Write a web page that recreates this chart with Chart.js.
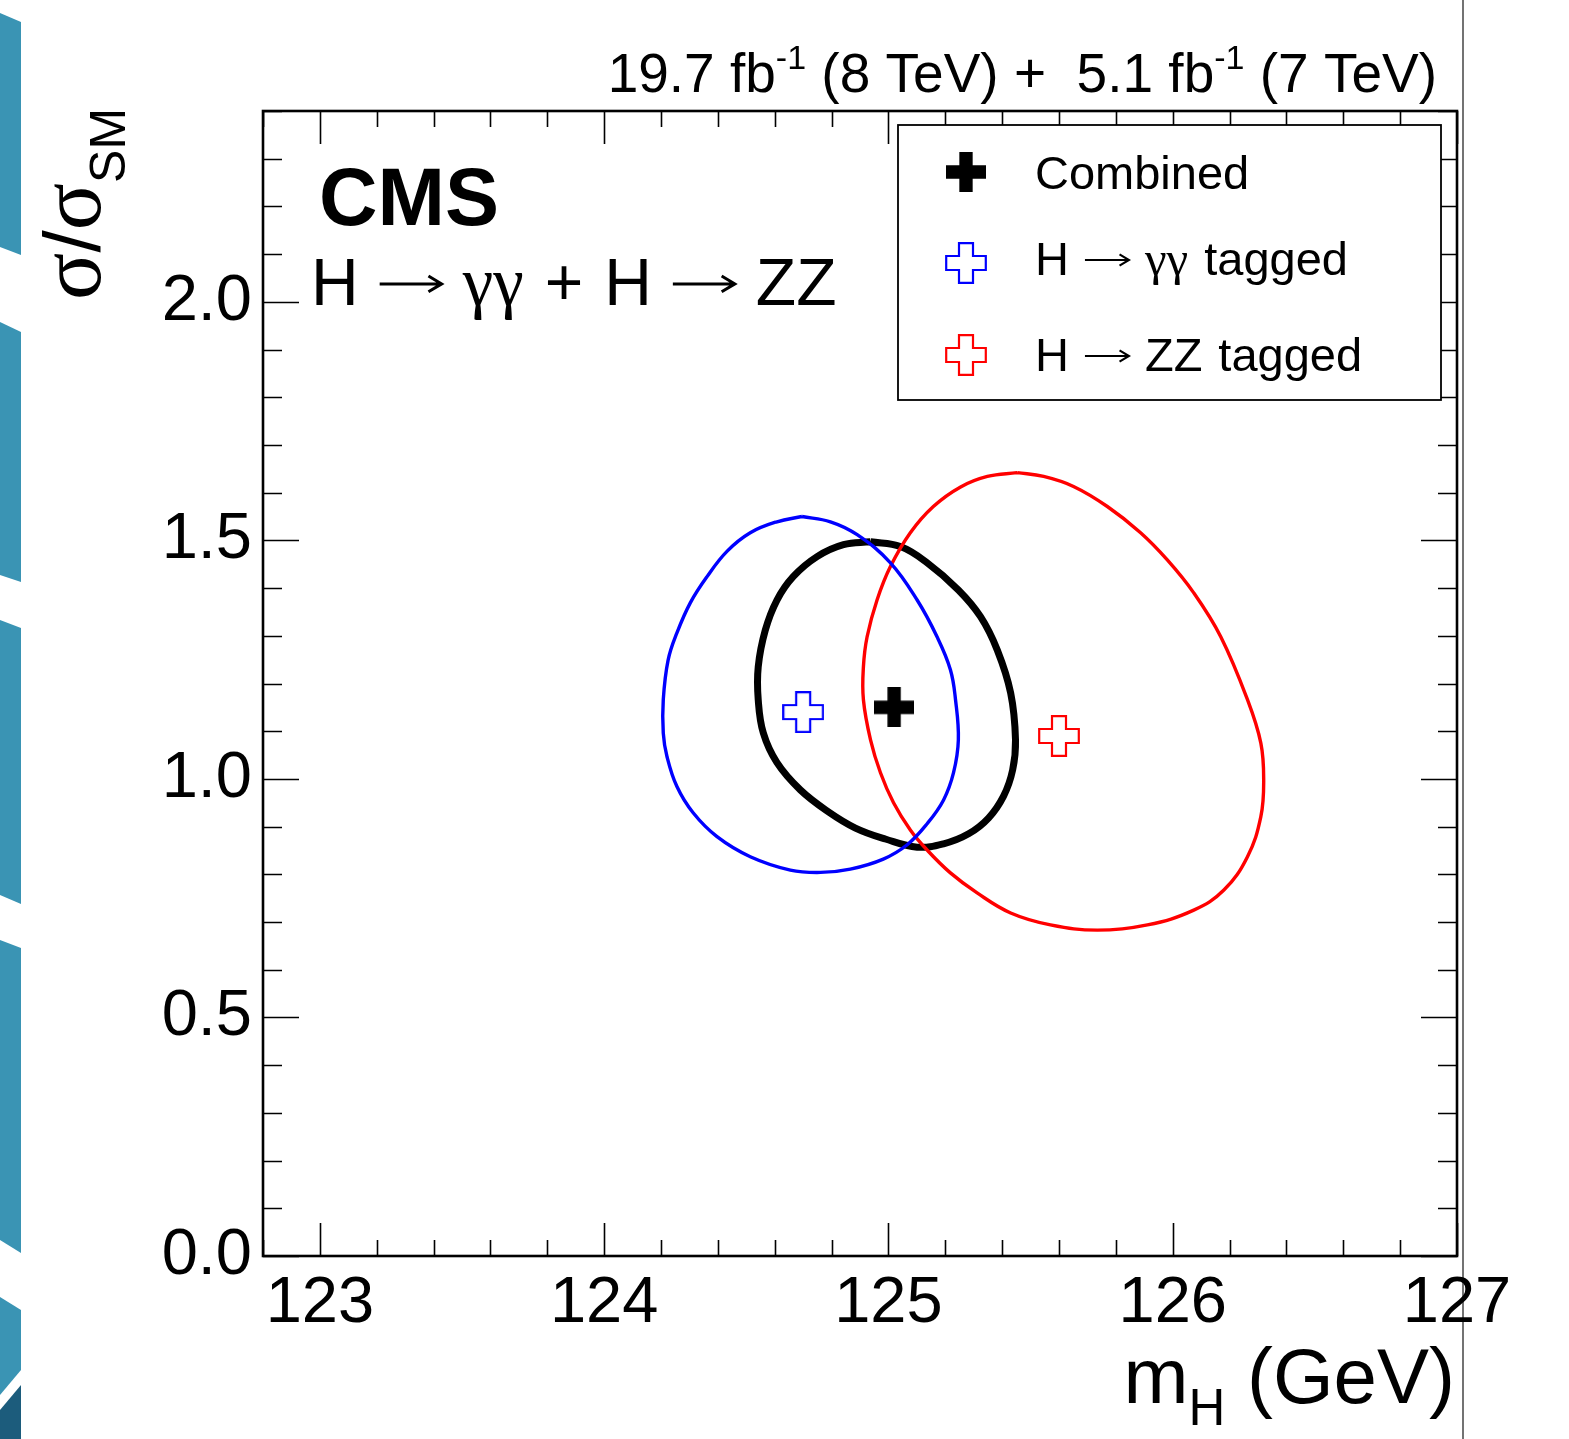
<!DOCTYPE html>
<html>
<head>
<meta charset="utf-8">
<script src="https://cdn.jsdelivr.net/npm/chart.js@4.4.1/dist/chart.umd.min.js"></script>
<style>
  html, body { margin: 0; padding: 0; background: #fff; }
  #wrap { position: relative; width: 1569px; height: 1439px; }
</style>
</head>
<body>
<div id="wrap"><canvas id="chart" width="1569" height="1439"></canvas></div>
<script>
// Axis ranges and labelled ticks
const xRange = [122.8, 127];
const yRange = [0, 2.4];
const xTicks = [123, 124, 125, 126, 127];
const yTicks = [0, 0.5, 1.0, 1.5, 2.0];

// Best-fit points (mH, sigma/sigma_SM)
const combinedFit = [{ x: 125.02, y: 1.15 }];
const ggFit = [{ x: 124.70, y: 1.14 }];
const zzFit = [{ x: 125.60, y: 1.09 }];

// 68% CL contours, traced clockwise from the top
const ggContourX = [124.696, 124.796, 124.890, 125.007, 125.101, 125.171, 125.218, 125.236, 125.246, 125.229,
  125.194, 125.136, 125.066, 124.982, 124.866, 124.761, 124.655, 124.514, 124.397, 124.313,
  124.256, 124.221, 124.208, 124.208, 124.225, 124.256, 124.303, 124.362, 124.432, 124.514,
  124.608];
const ggContourY = [1.550, 1.539, 1.512, 1.453, 1.375, 1.298, 1.229, 1.166, 1.082, 1.013,
  0.956, 0.906, 0.862, 0.832, 0.811, 0.804, 0.809, 0.837, 0.879, 0.929,
  0.984, 1.047, 1.096, 1.166, 1.249, 1.306, 1.369, 1.424, 1.477, 1.516,
  1.539];

const zzContourX = [125.453, 125.546, 125.651, 125.770, 125.887, 125.981, 126.074, 126.169, 126.263, 126.310,
  126.320, 126.310, 126.263, 126.180, 126.074, 125.911, 125.735, 125.570, 125.430, 125.312,
  125.218, 125.136, 125.077, 125.018, 124.972, 124.937, 124.912, 124.912, 124.925, 124.960,
  125.007, 125.077, 125.158, 125.254, 125.348];
const zzContourY = [1.642, 1.634, 1.613, 1.571, 1.516, 1.459, 1.390, 1.298, 1.166, 1.075,
  0.998, 0.921, 0.837, 0.767, 0.725, 0.694, 0.683, 0.694, 0.719, 0.761,
  0.803, 0.851, 0.893, 0.950, 1.013, 1.082, 1.166, 1.235, 1.298, 1.375,
  1.445, 1.516, 1.571, 1.612, 1.634];

const combContourX = [124.937, 125.042, 125.136, 125.246, 125.324, 125.383, 125.430, 125.447, 125.437, 125.405,
  125.352, 125.282, 125.194, 125.101, 124.989, 124.884, 124.789, 124.690, 124.608, 124.560,
  124.542, 124.542, 124.567, 124.608, 124.665, 124.749, 124.842];
const combContourY = [1.497, 1.487, 1.453, 1.396, 1.340, 1.270, 1.180, 1.082, 1.019, 0.964,
  0.918, 0.885, 0.864, 0.857, 0.874, 0.897, 0.931, 0.977, 1.034, 1.096,
  1.166, 1.235, 1.312, 1.375, 1.424, 1.466, 1.491];

const legendLabels = ['Combined', 'H \u2192 \u03b3\u03b3 tagged', 'H \u2192 ZZ tagged'];
const processLabel = 'H \u2192 \u03b3\u03b3 + H \u2192 ZZ';

const SANS = '"Liberation Sans", Arial, Helvetica, sans-serif';
const SERIF = '"Liberation Serif", "Times New Roman", serif';
const BLUE = '#0000ff';
const RED = '#ff0000';

// closed loop of {x, y} points
function toLoop(xs, ys) {
  const pts = xs.map((x, i) => ({ x, y: ys[i] }));
  pts.push({ ...pts[0] });
  return pts;
}

// ROOT-like plus marker, filled or open
function makeCross(size, color, filled) {
  const c = document.createElement('canvas');
  c.width = size;
  c.height = size;
  const g = c.getContext('2d');
  const o = filled ? 0 : 1.2;
  const a = size / 3, b = 2 * size / 3, s = size - o;
  g.beginPath();
  g.moveTo(a, o); g.lineTo(b, o); g.lineTo(b, a); g.lineTo(s, a); g.lineTo(s, b);
  g.lineTo(b, b); g.lineTo(b, s); g.lineTo(a, s); g.lineTo(a, b); g.lineTo(o, b);
  g.lineTo(o, a); g.lineTo(a, a); g.closePath();
  if (filled) {
    g.fillStyle = color;
    g.fill();
  } else {
    g.strokeStyle = color;
    g.lineWidth = 2.2;
    g.stroke();
  }
  return c;
}

const crossComb = makeCross(40, '#000', true);
const crossGG = makeCross(42, BLUE, false);
const crossZZ = makeCross(42, RED, false);

// draw a run of text pieces with different fonts / offsets
function drawParts(ctx, parts, x, y, align) {
  let total = 0;
  parts.forEach(p => {
    if (p.t !== undefined) { ctx.font = p.font; p.w = ctx.measureText(p.t).width; }
    else p.w = p.gap || p.arrow;
    total += p.w;
  });
  let cx = align === 'right' ? x - total : x;
  parts.forEach(p => {
    if (p.t !== undefined) {
      ctx.font = p.font;
      ctx.fillText(p.t, cx, y + (p.dy || 0));
    } else if (p.arrow) {
      const ay = y - p.rise;
      ctx.save();
      ctx.strokeStyle = ctx.fillStyle;
      ctx.lineWidth = p.lw;
      ctx.lineCap = 'butt';
      ctx.beginPath();
      ctx.moveTo(cx, ay); ctx.lineTo(cx + p.arrow - 1, ay);
      ctx.moveTo(cx + p.arrow - p.hl, ay - p.hw); ctx.lineTo(cx + p.arrow, ay);
      ctx.lineTo(cx + p.arrow - p.hl, ay + p.hw);
      ctx.stroke();
      ctx.restore();
    }
    cx += p.w;
  });
}

// turn "H → γγ tagged" into text / arrow / serif pieces separated by gaps
function richParts(label, size, gap, arrowLen) {
  const sans = size + 'px ' + SANS, serif = Math.round(size * 1.05) + 'px ' + SERIF;
  const out = [];
  label.split(' ').forEach((tok, i) => {
    if (i > 0) out.push({ gap });
    if (tok === '\u2192') {
      out.push({ arrow: arrowLen, lw: size / 22, rise: size * 0.32, hl: size * 0.2, hw: size * 0.12 });
    } else if (tok.includes('\u03b3')) {
      out.push({ t: tok, font: serif });
    } else {
      out.push({ t: tok, font: sans });
    }
  });
  return out;
}

// slide decoration: teal strip on the left, thin rule on the right
const decorPlugin = {
  id: 'decor',
  beforeDraw(chart) {
    const ctx = chart.ctx;
    ctx.save();
    ctx.fillStyle = '#fff';
    ctx.fillRect(0, 0, chart.width, chart.height);
    const w = 21;
    const pieces = [
      [13, 22, 255, 247, '#3a94b4'],
      [322, 332, 582, 575, '#3a94b4'],
      [620, 628, 904, 895, '#3a94b4'],
      [940, 948, 1253, 1240, '#3a94b4'],
      [1297, 1310, 1370, 1395, '#3a94b4'],
      [1410, 1385, 1439, 1439, '#1c5c7c']
    ];
    pieces.forEach(([tl, tr, br, bl, col]) => {
      ctx.fillStyle = col;
      ctx.beginPath();
      ctx.moveTo(0, tl); ctx.lineTo(w, tr); ctx.lineTo(w, br); ctx.lineTo(0, bl);
      ctx.closePath();
      ctx.fill();
    });
    ctx.strokeStyle = '#444';
    ctx.lineWidth = 1.5;
    ctx.beginPath();
    ctx.moveTo(1463, 0);
    ctx.lineTo(1463, chart.height);
    ctx.stroke();
    ctx.restore();
  }
};

// frame with ROOT-style inward ticks on all four sides
const framePlugin = {
  id: 'frame',
  afterDatasetsDraw(chart) {
    const { ctx, chartArea: a, scales: { x, y } } = chart;
    ctx.save();
    ctx.strokeStyle = '#000';
    ctx.lineWidth = 1.6;
    ctx.beginPath();
    for (let i = 0; i <= 21; i++) {
      const v = +(xRange[0] + 0.2 * i).toFixed(2);
      const px = Math.round(x.getPixelForValue(v)) + 0.5;
      const len = Math.abs(v - Math.round(v)) < 1e-6 ? 33 : 16;
      ctx.moveTo(px, a.bottom); ctx.lineTo(px, a.bottom - len);
      ctx.moveTo(px, a.top); ctx.lineTo(px, a.top + len);
    }
    for (let i = 0; i <= 24; i++) {
      const v = +(0.1 * i).toFixed(2);
      const py = Math.round(y.getPixelForValue(v)) + 0.5;
      const len = Math.abs(v * 2 - Math.round(v * 2)) < 1e-6 ? 36 : 19;
      ctx.moveTo(a.left, py); ctx.lineTo(a.left + len, py);
      ctx.moveTo(a.right, py); ctx.lineTo(a.right - len, py);
    }
    ctx.stroke();
    ctx.lineWidth = 2.6;
    ctx.strokeRect(a.left, a.top, a.right - a.left, a.bottom - a.top);
    ctx.restore();
  }
};

// labels, axis titles and legend box
const textPlugin = {
  id: 'texts',
  afterDraw(chart) {
    const ctx = chart.ctx;
    ctx.save();
    ctx.fillStyle = '#000';
    ctx.textAlign = 'left';
    ctx.textBaseline = 'alphabetic';

    // luminosity line
    const lf = '55px ' + SANS, sf = '34px ' + SANS;
    drawParts(ctx, [
      { t: '19.7 fb', font: lf }, { t: '-1', font: sf, dy: -23 },
      { t: ' (8 TeV) +  5.1 fb', font: lf }, { t: '-1', font: sf, dy: -23 },
      { t: ' (7 TeV)', font: lf }
    ], 1437, 92, 'right');

    ctx.font = 'bold 81px ' + SANS;
    ctx.fillText('CMS', 319, 225);

    drawParts(ctx, richParts(processLabel, 66, 21, 62), 311, 305);

    // x title
    drawParts(ctx, [
      { t: 'm', font: '78px ' + SANS }, { t: 'H', font: '51px ' + SANS, dy: 22 },
      { t: ' (GeV)', font: '78px ' + SANS }
    ], 1455, 1403, 'right');

    // y title, rotated
    ctx.save();
    ctx.translate(100, 300);
    ctx.rotate(-Math.PI / 2);
    drawParts(ctx, [
      { t: '\u03c3', font: '88px ' + SERIF }, { t: '/', font: '80px ' + SANS },
      { t: '\u03c3', font: '88px ' + SERIF }, { t: 'SM', font: '50px ' + SANS, dy: 25 }
    ], 0, 0);
    ctx.restore();

    // legend
    const bx = 898, by = 125, bw = 543, bh = 275;
    ctx.fillStyle = '#fff';
    ctx.fillRect(bx, by, bw, bh);
    ctx.strokeStyle = '#000';
    ctx.lineWidth = 1.8;
    ctx.strokeRect(bx, by, bw, bh);
    ctx.fillStyle = '#000';
    const markers = [crossComb, crossGG, crossZZ];
    const rowsY = [172, 263, 355];
    const baselines = [189, 275, 371];
    markers.forEach((m, i) => {
      ctx.drawImage(m, 966 - m.width / 2, rowsY[i] - m.height / 2);
      drawParts(ctx, richParts(legendLabels[i], 47, 16, 44), 1035, baselines[i]);
    });
    ctx.restore();
  }
};

const chart = new Chart(document.getElementById('chart'), {
  type: 'scatter',
  data: {
    datasets: [
      { label: legendLabels[0], data: combinedFit, pointStyle: crossComb, pointRadius: 20 },
      { label: legendLabels[1], data: ggFit, pointStyle: crossGG, pointRadius: 21 },
      { label: legendLabels[2], data: zzFit, pointStyle: crossZZ, pointRadius: 21 },
      { label: 'gg contour', data: toLoop(ggContourX, ggContourY), showLine: true, borderColor: BLUE,
        borderWidth: 3.4, pointRadius: 0, tension: 0.4, fill: false },
      { label: 'zz contour', data: toLoop(zzContourX, zzContourY), showLine: true, borderColor: RED,
        borderWidth: 3.4, pointRadius: 0, tension: 0.4, fill: false },
      { label: 'combined contour', data: toLoop(combContourX, combContourY), showLine: true, borderColor: '#000',
        borderWidth: 7, pointRadius: 0, tension: 0.4, fill: false }
    ]
  },
  options: {
    responsive: false,
    animation: false,
    devicePixelRatio: 1,
    layout: { padding: { left: 0, top: 111, right: 112, bottom: 0 } },
    plugins: { legend: { display: false }, tooltip: { enabled: false } },
    scales: {
      x: {
        type: 'linear',
        min: xRange[0],
        max: xRange[1],
        afterBuildTicks: s => { s.ticks = xTicks.map(v => ({ value: v })); },
        afterFit: s => { s.height = 183; },
        grid: { display: false, drawTicks: false },
        border: { display: false },
        ticks: {
          color: '#000',
          font: { family: SANS, size: 65 },
          padding: 9,
          maxRotation: 0,
          autoSkip: false,
          callback: v => String(v)
        }
      },
      y: {
        type: 'linear',
        min: yRange[0],
        max: yRange[1],
        afterBuildTicks: s => { s.ticks = yTicks.map(v => ({ value: v })); },
        afterFit: s => { s.width = 263; },
        grid: { display: false, drawTicks: false },
        border: { display: false },
        ticks: {
          color: '#000',
          font: { family: SANS, size: 65 },
          padding: 11,
          callback: v => v.toFixed(1)
        }
      }
    }
  },
  plugins: [decorPlugin, framePlugin, textPlugin]
});
</script>
</body>
</html>
